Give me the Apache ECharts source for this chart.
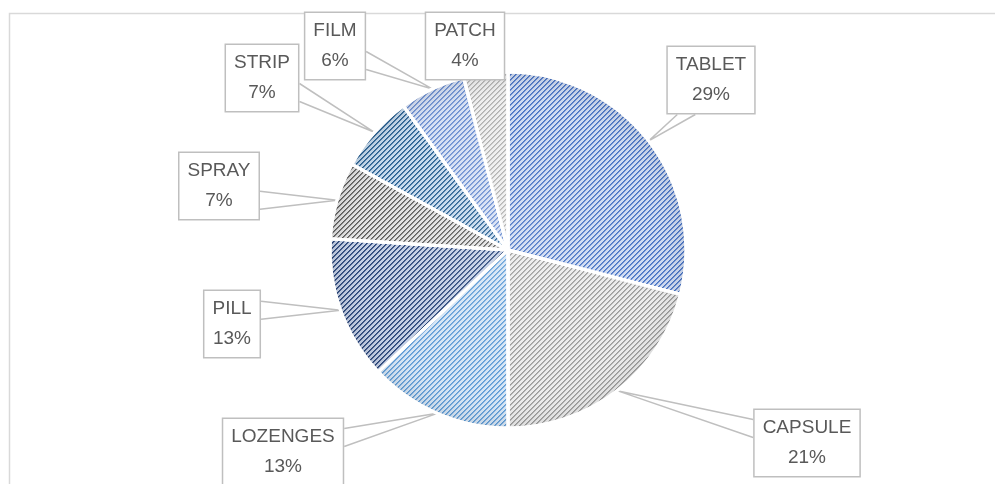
<!DOCTYPE html>
<html>
<head>
<meta charset="utf-8">
<script src="https://cdn.jsdelivr.net/npm/echarts@6/dist/echarts.min.js"></script>
<style>
html,body{margin:0;padding:0;background:#fff;}
#chart{width:995px;height:484px;}
</style>
</head>
<body>
<div id="chart"></div>
<script>
// ---- data ----
const categories = ['TABLET', 'CAPSULE', 'LOZENGES', 'PILL', 'SPRAY', 'STRIP', 'FILM', 'PATCH'];
const shares = [29, 21, 13, 13, 7, 7, 6, 4];

// ---- styles ----
const patternBg = ['#CFDBF2', '#ECECEC', '#D5E5F5', '#C4CFE5', '#E2E2E2', '#C6DAED', '#D6E0F4', '#EFEFEF'];
const patternMid = ['#6F8FD0', '#B4B4B4', '#80AEDF', '#4F6593', '#868686', '#527FA9', '#88A3DA', '#C6C6C6'];
const patternFg = ['#4472C4', '#9A9A9A', '#5B9BD5', '#264478', '#5A5A5A', '#255E91', '#698ED0', '#B0B0B0'];
// label box centers (layout only)
const labelCenters = [
  [711, 80], [807, 443], [283, 452], [232, 324], [219, 186], [262, 78], [335, 46], [465, 46]
];

function makePattern(bg, mid, fg) {
  const P = 5;
  const c = document.createElement('canvas');
  c.width = P; c.height = P;
  const ctx = c.getContext('2d');
  ctx.fillStyle = bg; ctx.fillRect(0, 0, P, P);
  for (let i = 0; i < P; i++) {
    ctx.fillStyle = fg;
    ctx.fillRect(i, P - 1 - i, 1, 1);
    ctx.fillStyle = mid;
    ctx.fillRect((i + 1) % P, P - 1 - i, 1, 1);
  }
  return c;
}

const CX = 508, CY = 250, R = 178;

const chart = echarts.init(document.getElementById('chart'), null, {renderer: 'canvas'});

const data = categories.map((name, i) => ({
  name: name,
  value: shares[i],
  itemStyle: { color: { image: makePattern(patternBg[i], patternMid[i], patternFg[i]), repeat: 'repeat' } }
}));

function wedge(params) {
  const i = params.dataIndex;
  const c = labelCenters[i];
  const w = params.labelRect.width, h = params.labelRect.height;
  const L = c[0] - w / 2, Rr = c[0] + w / 2, T = c[1] - h / 2, B = c[1] + h / 2;
  const pts = params.labelLinePoints;
  if (!pts) return null;
  const tip = pts[0];
  const dxl = L - tip[0], dxr = tip[0] - Rr, dyt = T - tip[1], dyb = tip[1] - B;
  const dx = Math.max(dxl, dxr), dy = Math.max(dyt, dyb);
  if (dx <= 0 && dy <= 0) return [tip, tip, tip];
  const m = 20, hw = 9;
  if (dx >= dy) {
    const ex = dxl > dxr ? L : Rr;
    const cy = Math.min(Math.max(tip[1], T + m), B - m);
    return [[ex, cy - hw], tip, [ex, cy + hw]];
  } else {
    const ey = dyt > dyb ? T : B;
    const cx = Math.min(Math.max(tip[0], L + m), Rr - m);
    return [[cx - hw, ey], tip, [cx + hw, ey]];
  }
}

const option = {
  animation: false,
  backgroundColor: '#ffffff',
  graphic: [{
    type: 'rect', left: 7, top: 11, silent: true, z: -10,
    shape: { width: 1300, height: 700 },
    style: { fill: 'none', stroke: '#D9D9D9', lineWidth: 1.5 }
  }],
  series: [{
    type: 'pie',
    center: [CX, CY],
    radius: R,
    startAngle: 90,
    clockwise: true,
    avoidLabelOverlap: false,
    itemStyle: { borderColor: '#ffffff', borderWidth: 3 },
    label: {
      show: true,
      position: 'outside',
      formatter: '{b}\n{c}%',
      fontFamily: '"Liberation Sans", Arial, sans-serif',
      fontSize: 19,
      lineHeight: 30,
      color: '#595959',
      backgroundColor: '#ffffff',
      borderColor: '#BFBFBF',
      borderWidth: 1.5,
      padding: [4, 8, 2, 8],
      align: 'center'
    },
    labelLine: { show: true, length: 10, length2: 10, lineStyle: { color: '#BFBFBF', width: 1.5 } },
    labelLayout: function (params) {
      const c = labelCenters[params.dataIndex];
      const res = { x: c[0], y: c[1], align: 'center', verticalAlign: 'middle' };
      const lp = wedge(params);
      if (lp) res.labelLinePoints = lp;
      return res;
    },
    emphasis: { disabled: true },
    data: data
  }, {
    type: 'pie',
    center: [CX, CY],
    radius: R,
    startAngle: 90,
    clockwise: true,
    silent: true,
    label: { show: false },
    labelLine: { show: false },
    itemStyle: {
      borderColor: '#ffffff', borderWidth: 3,
      color: {
        type: 'radial', x: CX, y: CY, r: R, global: true,
        colorStops: [
          { offset: 0, color: 'rgba(255,255,255,0.12)' },
          { offset: 0.8, color: 'rgba(255,255,255,0)' },
          { offset: 1, color: 'rgba(0,0,0,0.07)' }
        ]
      }
    },
    emphasis: { disabled: true },
    data: shares.map((v, i) => ({ name: categories[i], value: v }))
  }]
};
chart.setOption(option);
</script>
</body>
</html>
